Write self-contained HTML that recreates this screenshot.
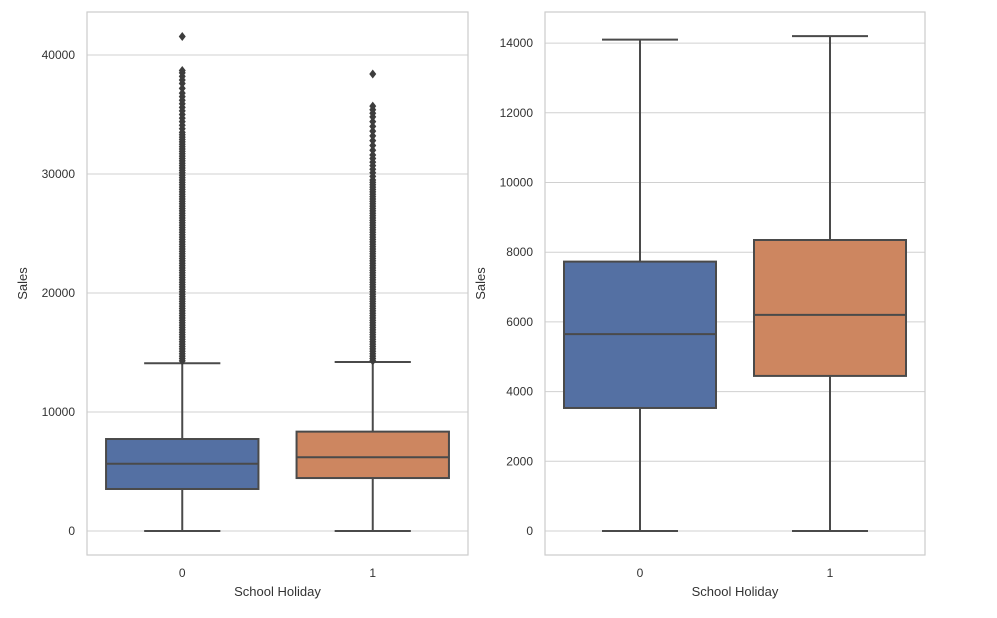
<!DOCTYPE html>
<html><head><meta charset="utf-8"><style>
html,body{margin:0;padding:0;background:#fff;}
svg{display:block;font-family:"Liberation Sans",Arial,sans-serif;}
</style></head><body>
<svg id="chart" width="997" height="618" viewBox="0 0 997 618"></svg>
<script>
const categories = ["0","1"];
const q1 = [3530, 4450];
const medians = [5650, 6200];
const q3 = [7730, 8350];
const whiskerLow = [0, 0];
const whiskerHigh = [14100, 14200];
const outliers0 = [14300,14500,14700,14900,15100,15300,15500,15700,15900,16100,16300,16500,16700,16900,17100,17300,17500,17700,17900,18100,18300,18500,18700,18900,19100,19300,19500,19700,19900,20100,20300,20500,20700,20900,21100,21300,21500,21700,21900,22100,22300,22500,22700,22900,23100,23300,23500,23700,23900,24100,24300,24500,24700,24900,25100,25300,25500,25700,25900,26100,26300,26500,26700,26900,27100,27300,27500,27700,27900,28100,28300,28500,28700,28900,29100,29300,29500,29700,29900,30100,30300,30500,30700,30900,31100,31300,31500,31700,31900,32100,32300,32500,32700,32900,33100,33300,33500,33800,34100,34400,34700,35000,35300,35600,35900,36200,36500,36800,37200,37600,37900,38200,38500,38700,41550];
const outliers1 = [14300,14500,14700,14900,15100,15300,15500,15700,15900,16100,16300,16500,16700,16900,17100,17300,17500,17700,17900,18100,18300,18500,18700,18900,19100,19300,19500,19700,19900,20100,20300,20500,20700,20900,21100,21300,21500,21700,21900,22100,22300,22500,22700,22900,23100,23300,23500,23700,23900,24100,24300,24500,24700,24900,25100,25300,25500,25700,25900,26100,26300,26500,26700,26900,27100,27300,27500,27700,27900,28100,28300,28500,28700,28900,29100,29300,29500,29800,30100,30400,30700,31000,31300,31600,32000,32400,32800,33200,33600,34000,34400,34800,35100,35400,35700,38400];
const leftTicks = [0,10000,20000,30000,40000];
const rightTicks = [0,2000,4000,6000,8000,10000,12000,14000];

const svg = document.getElementById('chart');
const NS = 'http://www.w3.org/2000/svg';
function mk(tag, attrs, parent){const e=document.createElementNS(NS,tag);for(const k in attrs)e.setAttribute(k,attrs[k]);(parent||svg).appendChild(e);return e;}
const colors = ["#5470a3","#cd8660"];
const lineC = "#4a4a4a";

function panel(x0, x1, y0, y1, yZeroPx, pxPerUnit, ticks, showOutliers, name){
  const g = mk('g',{});
  
  
  const y = v => yZeroPx - v*pxPerUnit;
  const catW = (x1-x0)/categories.length;
  const x = i => x0 + catW*(i+0.5);
  ticks.forEach(t=>{
    const gl = mk('line',{x1:x0,x2:x1,y1:y(t),y2:y(t),stroke:'#d0d0d0','stroke-width':1},g);
    
    
    const tl = mk('text',{x:x0-12,y:y(t)+4,'text-anchor':'end','font-size':12,fill:'#333'},g);
    tl.textContent = t;
    
    
  });
  const fr = mk('rect',{x:x0,y:y0,width:x1-x0,height:y1-y0,fill:'none',stroke:'#cccccc','stroke-width':1.2},g);
  
  
  const bw = catW*0.8;
  categories.forEach((c,i)=>{
    const cx = x(i);
    const wl = mk('line',{x1:cx,x2:cx,y1:y(whiskerLow[i]),y2:y(q1[i]),stroke:lineC,'stroke-width':2},g);
    
    
    const wh = mk('line',{x1:cx,x2:cx,y1:y(q3[i]),y2:y(whiskerHigh[i]),stroke:lineC,'stroke-width':2},g);
    
    
    [whiskerLow[i],whiskerHigh[i]].forEach(v=>{
      const cap = mk('line',{x1:cx-bw/4,x2:cx+bw/4,y1:y(v),y2:y(v),stroke:lineC,'stroke-width':2},g);
      
      
    });
    const box = mk('rect',{x:cx-bw/2,y:y(q3[i]),width:bw,height:y(q1[i])-y(q3[i]),fill:colors[i],stroke:lineC,'stroke-width':2},g);
    
    
    const md = mk('line',{x1:cx-bw/2,x2:cx+bw/2,y1:y(medians[i]),y2:y(medians[i]),stroke:lineC,'stroke-width':2},g);
    
    
    if(showOutliers){
      (i===0?outliers0:outliers1).forEach(v=>{
        const yy=y(v);
        const d = mk('polygon',{points:`${cx},${yy-4.5} ${cx+3.5},${yy} ${cx},${yy+4.5} ${cx-3.5},${yy}`,fill:'#3d3d3d'},g);
        
        
      });
    }
    const xl = mk('text',{x:cx,y:y1+22,'text-anchor':'middle','font-size':12,fill:'#333'},g);
    xl.textContent = c;
    
    
  });
  const xt = mk('text',{x:(x0+x1)/2,y:y1+41,'text-anchor':'middle','font-size':13,fill:'#333'},g);
  xt.textContent = 'School Holiday';
  
  
  const yt = mk('text',{x:0,y:0,'text-anchor':'middle','font-size':13,fill:'#333',transform:`translate(${x0-60},${(y0+y1)/2}) rotate(-90)`},g);
  yt.textContent = 'Sales';
  
  
}
panel(87, 468, 12, 555, 531, 119/10000, leftTicks, true, 'left-panel');
panel(545, 925, 12, 555, 531, 69.7/2000, rightTicks, false, 'right-panel');
</script>
</body></html>
